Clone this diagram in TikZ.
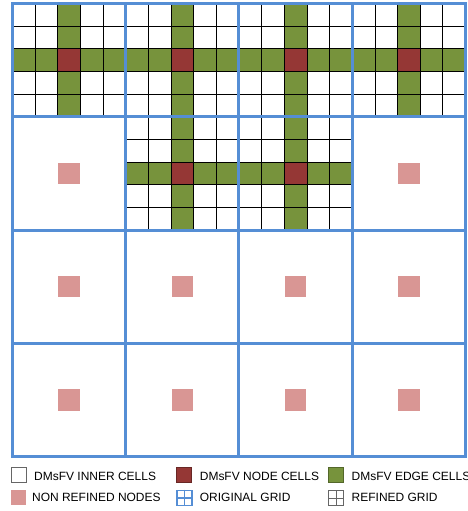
\documentclass[tikz,border=0pt]{standalone}
\usepackage{fontspec}
\setmainfont{Liberation Sans}
\definecolor{gridblue}{HTML}{558ED5}
\definecolor{edgegreen}{HTML}{77933C}
\definecolor{nodered}{HTML}{953735}
\definecolor{nonpink}{HTML}{D99694}

\begin{document}
\begin{tikzpicture}[x=113.4pt, y=113.4pt,
    coarse/.style={gridblue, line width=3pt},
    fine/.style={black, line width=0.7pt},
    legbox/.style={minimum size=15pt, inner sep=0pt, line width=0.7pt},
    legtext/.style={anchor=west, inner sep=0pt, font=\fontsize{12}{14}\selectfont}]
    \useasboundingbox (-0.110,-0.481) rectangle (4.017,4.031);

    % Refined blocks: whole top row and the two middle ones below it
    \foreach \i/\j in {0/3,1/3,2/3,3/3,1/2,2/2} {
        \fill[edgegreen] (\i+0.4,\j) rectangle (\i+0.6,\j+1);
        \fill[edgegreen] (\i,\j+0.4) rectangle (\i+1,\j+0.6);
        \fill[nodered] (\i+0.4,\j+0.4) rectangle (\i+0.6,\j+0.6);
        \draw[fine, step=0.2] (\i,\j) grid (\i+1,\j+1);
    }

    % Non refined nodes
    \foreach \i/\j in {0/2,3/2,0/1,1/1,2/1,3/1,0/0,1/0,2/0,3/0}
        \fill[nonpink] (\i+0.405,\j+0.405) rectangle (\i+0.595,\j+0.595);

    % Draw the original grid
    \draw[coarse, step=1] (0,0) grid (4,4);
    \draw[coarse] (0,0) rectangle (4,4);

    % Legend
    \node[legbox, draw=black!60, fill=white] (innerbox) at (0.053,-0.163) {};
    \node[legtext] (innertext) at (0.190,-0.175) {DMsFV INNER CELLS};
    \node[legbox, draw=nodered!70!black, fill=nodered] (nodebox) at (1.517,-0.163) {};
    \node[legtext] (nodetext) at (1.653,-0.175) {DMsFV NODE CELLS};
    \node[legbox, draw=edgegreen!70!black, fill=edgegreen] (edgebox) at (2.857,-0.163) {};
    \node[legtext] (edgetext) at (2.994,-0.175) {DMsFV EDGE CELLS};
    \node[legbox, fill=nonpink] (nonbox) at (0.053,-0.366) {};
    \node[legtext] (nontext) at (0.172,-0.357) {NON REFINED NODES};
    \node[legbox, draw=gridblue, line width=1.5pt] (origbox) at (1.517,-0.366) {};
    \draw[gridblue, line width=1.5pt] (origbox.north) -- (origbox.south);
    \draw[gridblue, line width=1.5pt] (origbox.west) -- (origbox.east);
    \node[legtext] (origtext) at (1.653,-0.357) {ORIGINAL GRID};
    \node[legbox, draw=black!60] (refbox) at (2.857,-0.366) {};
    \draw[black!60, line width=0.7pt] (refbox.north) -- (refbox.south);
    \draw[black!60, line width=0.7pt] (refbox.west) -- (refbox.east);
    \node[legtext] (reftext) at (2.994,-0.357) {REFINED GRID};
\end{tikzpicture}
\end{document}
